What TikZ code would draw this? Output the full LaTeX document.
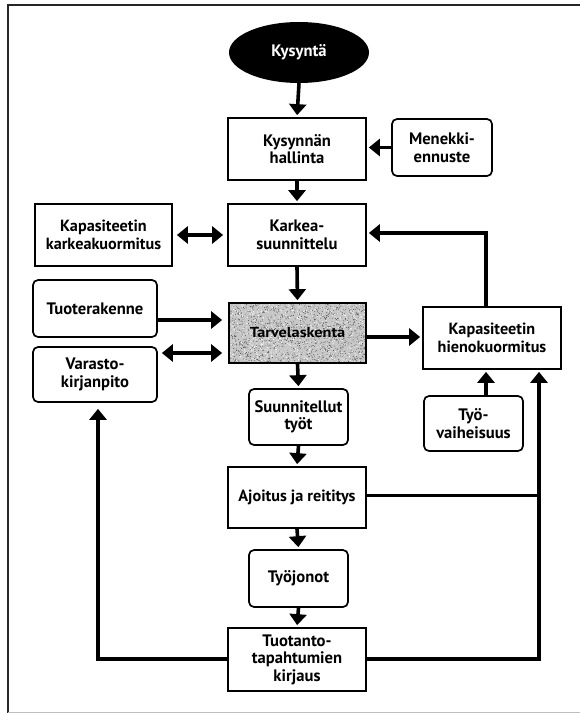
\documentclass[tikz,border=0pt]{standalone}
\usepackage{fontspec}
\setmainfont{PT Sans}
\usetikzlibrary{arrows.meta,shapes.geometric}

\begin{document}
\begin{tikzpicture}[x=1pt,y=-1pt,
  font=\bfseries\fontsize{16.6}{17.5}\selectfont,
  box/.style={draw=black, line width=1.7pt, align=center, inner sep=0pt,
              minimum width=#1},
  box/.default=138,
  rbox/.style={box=#1, rounded corners=5pt},
  rbox/.default=99,
  arr/.style={line width=3.6pt, -{Triangle[width=17pt,length=11pt]},
              shorten >=2pt},
  darr/.style={line width=3.6pt,
               {Triangle[width=17pt,length=11pt]}-{Triangle[width=17pt,length=11pt]},
               shorten >=4pt, shorten <=4pt},
  loopline/.style={line width=4.8pt, line join=miter},
  joinline/.style={line width=3pt}]

\useasboundingbox (0,0) rectangle (580,713);
\fill[white] (0,0) rectangle (580,713);

% page frame
\draw[black!85, line width=2.6pt] (8,713) -- (8,5) -- (580,5);
\draw[black!25, line width=1pt] (8,712) -- (580,712);

% nodes
\node[ellipse, fill=black, text=white, minimum width=140pt, minimum height=61pt,
      inner sep=0pt] (kys) at (299,52.5) {Kysyntä};
\node[box, minimum height=62pt] (hall) at (297,149) {Kysynnän\\hallinta};
\node[rbox=100, minimum height=57pt] (men) at (442,147.5) {Menekki-\\ennuste};
\node[box, minimum height=62pt] (kark) at (297,235) {Karkea-\\suunnittelu};
\node[box=137, minimum height=62pt, font=\bfseries\fontsize{16.2}{17.5}\selectfont]
  (kapk) at (103.5,235) {Kapasiteetin\\karkeakuormitus};
\node[rbox=124, minimum height=57pt] (tuote) at (95,308.5) {Tuoterakenne};
\node[rbox=124, minimum height=55pt] (var) at (95,374.5) {Varasto-\\kirjanpito};

% speckled box for the requirements calculation
\begin{scope}
  \clip (229,303) rectangle (366,363);
  \fill[black!22] (229,303) rectangle (366,363);
  \pgfmathsetseed{42}
  \foreach \i in {1,...,1400}
    \fill[black!70] ({229+137*rnd},{303+60*rnd}) circle (0.45pt);
  \foreach \i in {1,...,900}
    \fill[white] ({229+137*rnd},{303+60*rnd}) circle (0.5pt);
\end{scope}
\node[box=137, minimum height=60pt, font=\bfseries\fontsize{14.5}{16}\selectfont]
  (tarve) at (297.5,333) {\scalebox{1.12}[1]{Tarvelaskenta}};

\node[box, minimum height=62pt, font=\bfseries\fontsize{16.2}{17.5}\selectfont]
  (hieno) at (492,338) {Kapasiteetin\\hienokuormitus};
\node[rbox, minimum height=56pt] (suun) at (298.5,417) {Suunnitellut\\työt};
\node[rbox, minimum height=55pt] (tyov) at (473.5,423.5) {Työ-\\vaiheisuus};
\node[box, minimum height=61pt, font=\bfseries\fontsize{16.2}{17.5}\selectfont]
  (ajo) at (297,497.5) {Ajoitus ja reititys};
\node[rbox, minimum height=57pt] (tyoj) at (298.5,578.5) {Työjonot};
\node[box, minimum height=63pt] (tuot) at (297,659.5) {Tuotanto-\\tapahtumien\\kirjaus};

% helper coordinates for connector rows and columns
\coordinate (rowTuote) at (0,320);
\coordinate (rowVar) at (0,353);
\coordinate (rowHieno) at (0,337);
\coordinate (fb) at (486,233);
\coordinate (colRight) at (539,495);
\coordinate (colLeft) at (98,659);

% main column
\draw[arr] (kys.south) -- (hall.north);
\draw[arr] (hall.south) -- (kark.north);
\draw[arr] (kark.south) -- (tarve.north);
\draw[arr] (tarve.south) -- (suun.north);
\draw[arr] (suun.south) -- (ajo.north);
\draw[arr] (ajo.south) -- (tyoj.north);
\draw[arr] (tyoj.south) -- (tuot.north);

% side inputs
\draw[arr] (men.west) -- (men.west -| hall.east);
\draw[darr] (kapk.east) -- (kark.west);
\draw[arr, shorten >=6pt] (rowTuote -| tuote.east) -- (rowTuote -| tarve.west);
\draw[darr, shorten >=6pt] (rowVar -| var.east) -- (rowVar -| tarve.west);
\draw[arr] (rowHieno -| tarve.east) -- (rowHieno -| hieno.west);
\draw[arr] (fb |- tyov.north) -- (fb |- hieno.south);

% feedback from fine loading to rough planning
\draw[loopline, -{Triangle[width=17pt,length=11pt]}, shorten >=2pt]
  (fb |- hieno.north) -- (fb) -- (fb -| kark.east);

% feedback loops from production recording
\draw[joinline] (colRight -| ajo.east) -- (colRight);
\draw[loopline, -{Triangle[width=17pt,length=11pt]}, shorten >=2pt]
  (tuot.east |- colLeft) -- (colLeft -| colRight) -- (colRight |- hieno.south);
\draw[loopline, -{Triangle[width=17pt,length=11pt]}, shorten >=6pt]
  (tuot.west |- colLeft) -- (colLeft) -- (colLeft |- var.south);

\end{tikzpicture}
\end{document}
